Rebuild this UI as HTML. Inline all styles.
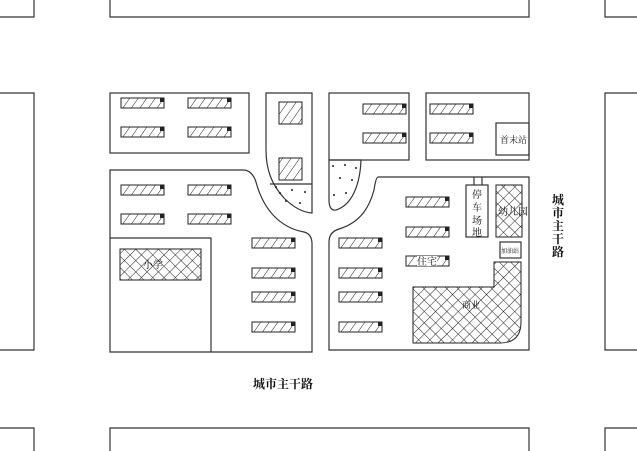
<!DOCTYPE html>
<html><head><meta charset="utf-8"><style>
html,body{margin:0;padding:0;background:#fff;}
svg{display:block;font-family:"Liberation Serif","Noto Serif CJK SC","Noto Sans CJK SC",serif;}
</style></head><body>
<svg width="637" height="451" viewBox="0 0 637 451" xmlns="http://www.w3.org/2000/svg">
<defs>
<pattern id="h" patternUnits="userSpaceOnUse" width="7" height="7" patternTransform="rotate(35)">
<line x1="0" y1="0" x2="0" y2="7" stroke="#222" stroke-width="1"/></pattern>
<pattern id="x" patternUnits="userSpaceOnUse" width="8" height="8" patternTransform="rotate(45)">
<line x1="0" y1="0" x2="0" y2="8" stroke="#222" stroke-width="1"/><line x1="0" y1="0" x2="8" y2="0" stroke="#222" stroke-width="1"/></pattern>
<g id="b"><rect x="0" y="0" width="43" height="10" fill="url(#h)" stroke="#222" stroke-width="1"/><rect x="39" y="0" width="4" height="4" fill="#222"/></g>
</defs>
<g fill="none" stroke="#333" stroke-width="1.2">
<polyline points="110,0 110,17 529,17 529,0"/>
<polyline points="110,451 110,428 529,428 529,451"/>
<polyline points="0,17 34,17 34,0"/>
<polyline points="637,17 605,17 605,0"/>
<polyline points="0,93 34,93 34,350 0,350"/>
<polyline points="637,93 605,93 605,350 637,350"/>
<polyline points="0,428 34,428 34,451"/>
<polyline points="637,428 605,428 605,451"/>
<rect x="110" y="93" width="139" height="60"/>
<path d="M110,170 L243,170 Q252,170 256,182 C264,212 282,228 304,232 Q312,234 312,244 L312,352 L110,352 Z"/>
<polyline points="110,238 211,238 211,352"/>
<path d="M266,93 L312,93 L312,213 Q298,212 284,198 C272,185 266,170 266,150 Z"/>
<line x1="270" y1="184" x2="312" y2="184"/>
<rect x="329" y="93" width="80" height="67"/>
<path d="M329,160 L361,160 C360,185 352,205 336,210 Q329,211 329,200 Z"/>
<rect x="426" y="93" width="103" height="67"/>
<rect x="496" y="123" width="33" height="32"/>
<path d="M378,177 L529,177 L529,350 L329,350 L329,242 Q329,232 339,229 C362,222 370,205 374,190 Q376,177 378,177 Z"/>
<rect x="466" y="185" width="22" height="52"/>
<line x1="474" y1="177" x2="474" y2="185"/><line x1="482" y1="177" x2="482" y2="185"/>
<rect x="500" y="242" width="21" height="16"/>
</g>
<g fill="#222">
<circle cx="280" cy="193" r="1"/><circle cx="292" cy="190" r="1"/><circle cx="305" cy="192" r="1"/><circle cx="286" cy="201" r="1"/><circle cx="300" cy="203" r="1"/><circle cx="276" cy="187" r="1"/>
<circle cx="333" cy="166" r="1"/><circle cx="345" cy="165" r="1"/><circle cx="356" cy="168" r="1"/><circle cx="340" cy="178" r="1"/><circle cx="352" cy="180" r="1"/><circle cx="334" cy="195" r="1"/><circle cx="346" cy="193" r="1"/>
</g>
<use href="#b" x="121" y="98"/><use href="#b" x="188" y="98"/>
<use href="#b" x="121" y="127"/><use href="#b" x="188" y="127"/>
<use href="#b" x="121" y="185"/><use href="#b" x="188" y="185"/>
<use href="#b" x="121" y="214"/><use href="#b" x="188" y="214"/>
<use href="#b" x="252" y="238"/><use href="#b" x="252" y="268"/><use href="#b" x="252" y="292"/><use href="#b" x="252" y="322"/>
<use href="#b" x="339" y="238"/><use href="#b" x="339" y="268"/><use href="#b" x="339" y="292"/><use href="#b" x="339" y="322"/>
<use href="#b" x="363" y="104"/><use href="#b" x="363" y="133"/>
<use href="#b" x="430" y="104"/><use href="#b" x="430" y="133"/>
<use href="#b" x="406" y="197"/><use href="#b" x="406" y="227"/><use href="#b" x="406" y="256"/>
<rect x="279" y="102" width="23" height="22" fill="url(#h)" stroke="#222"/>
<rect x="279" y="158" width="23" height="22" fill="url(#h)" stroke="#222"/>
<rect x="120" y="249" width="81" height="31" fill="url(#x)" stroke="#222"/>
<rect x="496" y="185" width="26" height="52" fill="url(#x)" stroke="#222"/>
<path d="M494,262 L521,262 L521,322 Q521,343 500,343 L413,343 L413,287 L494,287 Z" fill="url(#x)" stroke="#222"/>
<g fill="#111" font-size="10">
<rect x="417" y="256" width="20" height="10" fill="#fff"/>
<text x="417" y="265">住宅</text>
<text x="462" y="308" font-size="9">商业</text>
<text x="500" y="143" font-size="9">首末站</text>
<text x="501" y="253" font-size="6">加油站</text>
<text x="498" y="215" font-size="10">幼儿园</text>
<text x="472" y="198" font-size="10">停</text><text x="472" y="211" font-size="10">车</text><text x="472" y="224" font-size="10">场</text><text x="472" y="236" font-size="10">地</text>
<text x="253" y="388" font-size="12" font-weight="bold">城市主干路</text>
<g font-size="12" font-weight="bold"><text x="552" y="204">城</text><text x="552" y="217">市</text><text x="552" y="230">主</text><text x="552" y="243">干</text><text x="552" y="256">路</text></g>
<text x="143" y="268">小学</text>
</g>
</svg>
</body></html>
